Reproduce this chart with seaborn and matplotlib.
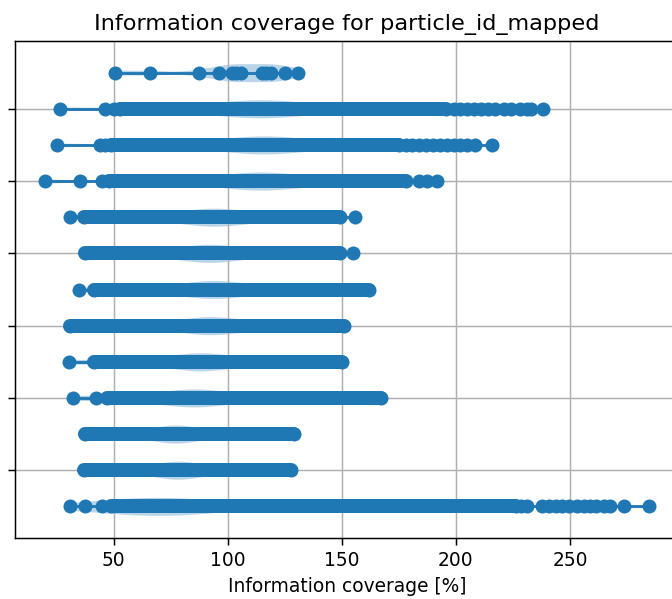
import numpy as np
import pandas as pd
import matplotlib
matplotlib.use("Agg")
import matplotlib.pyplot as plt
import seaborn as sns

# ---- data ----
# row positions on the numeric y axis (top row = 13, bottom row = 1)
row_pos = [13, 12, 11, 10, 9, 8, 7, 6, 5, 4, 3, 2, 1]

# individually visible points on the left of each dense band
left_dots = [
    [50.4, 66.1, 87.3, 96.1, 101.8, 103.5, 105.7, 115.0, 117.0, 119.0, 125.0, 130.9],
    [26.6, 46.1, 50.0],
    [25.1, 44.2, 46.4],
    [20.0, 35.4, 44.9],
    [31.0],
    [],
    [35.0],
    [],
    [30.3],
    [32.0, 42.3],
    [],
    [],
    [31.0, 37.6, 44.9],
]

# dense band extents (None = no dense band)
band_lo = [None, 53.0, 49.0, 47.8, 37.0, 37.6, 41.2, 31.0, 41.2, 47.0, 37.6, 36.8, 48.7]
band_hi = [None, 195.5, 175.0, 178.0, 149.4, 149.4, 161.8, 150.9, 150.1, 167.4, 128.9, 127.9, 226.2]

# individually visible points on the right of each dense band
right_dots = [
    [],
    [199, 202, 205, 208, 211, 214, 217, 221, 224, 228, 231, 233, 238.4],
    [178, 181, 184, 187, 190, 193, 196, 199, 202, 205, 208.6, 216.0],
    [183.8, 187.4, 191.8],
    [155.7],
    [154.8],
    [],
    [],
    [],
    [],
    [],
    [],
    [228.4, 231.3, 237.8, 241, 244, 246.6, 249.6, 253, 256, 259, 261.3, 265, 267.8, 273.7, 284.6],
]

# estimated distribution samples for the faint violins
violin_samples = [
    [50.4, 66.1, 87.3, 96.1, 101.8, 103.5, 105.7, 115.0, 117.0, 119.0, 125.0, 130.9],
    [26.6, 70, 92, 104, 111, 115, 119, 126, 140, 165, 238.4],
    [25.1, 72, 94, 106, 112, 116, 120, 127, 140, 160, 216.0],
    [20.0, 70, 92, 104, 110, 114, 118, 125, 136, 152, 191.8],
    [31.0, 55, 72, 84, 90, 94, 98, 105, 116, 130, 155.7],
    [37.6, 56, 72, 83, 89, 92, 96, 103, 114, 128, 154.8],
    [35.0, 57, 73, 85, 91, 94, 98, 106, 118, 134, 161.8],
    [31.0, 55, 71, 83, 89, 92.5, 96, 104, 115, 128, 150.9],
    [30.3, 52, 68, 80, 85, 88.6, 92, 100, 112, 126, 150.1],
    [32.0, 52, 67, 78, 83, 86, 90, 98, 112, 130, 167.4],
    [37.6, 50, 61, 70, 75, 77.6, 80, 86, 96, 110, 128.9],
    [36.8, 50, 62, 71, 76, 78.5, 81, 87, 97, 110, 127.9],
    [31.0, 48, 58, 66, 70, 72.8, 76, 84, 100, 130, 284.6],
]

ytick_pos = [2, 4, 6, 8, 10, 12]
ytick_labels = ["", "", "", "", "", ""]

title = "Information coverage for particle_id_mapped"
xlabel = "Information coverage [%]"

# ---- build tables ----
v_rows, d_rows, b_rows = [], [], []
for i, r in enumerate(row_pos):
    for v in violin_samples[i]:
        v_rows.append({"row": r, "value": v})
    pts = list(left_dots[i]) + list(right_dots[i])
    if band_lo[i] is not None:
        pts += [band_lo[i], band_hi[i]]
        b_rows.append({"row": r, "value": band_lo[i]})
        b_rows.append({"row": r, "value": band_hi[i]})
    for v in pts:
        d_rows.append({"row": r, "value": v})
vdf = pd.DataFrame(v_rows)
ddf = pd.DataFrame(d_rows)
bdf = pd.DataFrame(b_rows)

# ---- figure ----
DPI = 134
fig = plt.figure(figsize=(672 / DPI, 599 / DPI), dpi=DPI)
ax = fig.add_axes([15 / 672, 61 / 599, 664 / 672, 497 / 599])

mk = 14 * 72 / DPI  # marker diameter in points

sns.violinplot(data=vdf, x="value", y="row", orient="y", native_scale=True,
               width=0.5, density_norm="width", cut=0, inner=None,
               bw_adjust=0.5, color="C0", saturation=1, alpha=0.3,
               linewidth=0, ax=ax)

sns.lineplot(data=bdf, x="value", y="row", units="row", estimator=None,
             sort=True, color="C0", lw=mk, solid_capstyle="round",
             legend=False, ax=ax)

sns.lineplot(data=ddf, x="value", y="row", units="row", estimator=None,
             sort=True, color="C0", lw=1.5, marker="o", markersize=mk,
             mec="C0", mew=0, legend=False, ax=ax)

ax.set_ylim(0.125, 13.875)
ax.set_yticks(ytick_pos)
ax.set_yticklabels(ytick_labels)
ax.set_ylabel("")
ax.set_xlabel(xlabel)
ax.set_title(title)
ax.grid(True)

fig.savefig("out.png", dpi=DPI)
